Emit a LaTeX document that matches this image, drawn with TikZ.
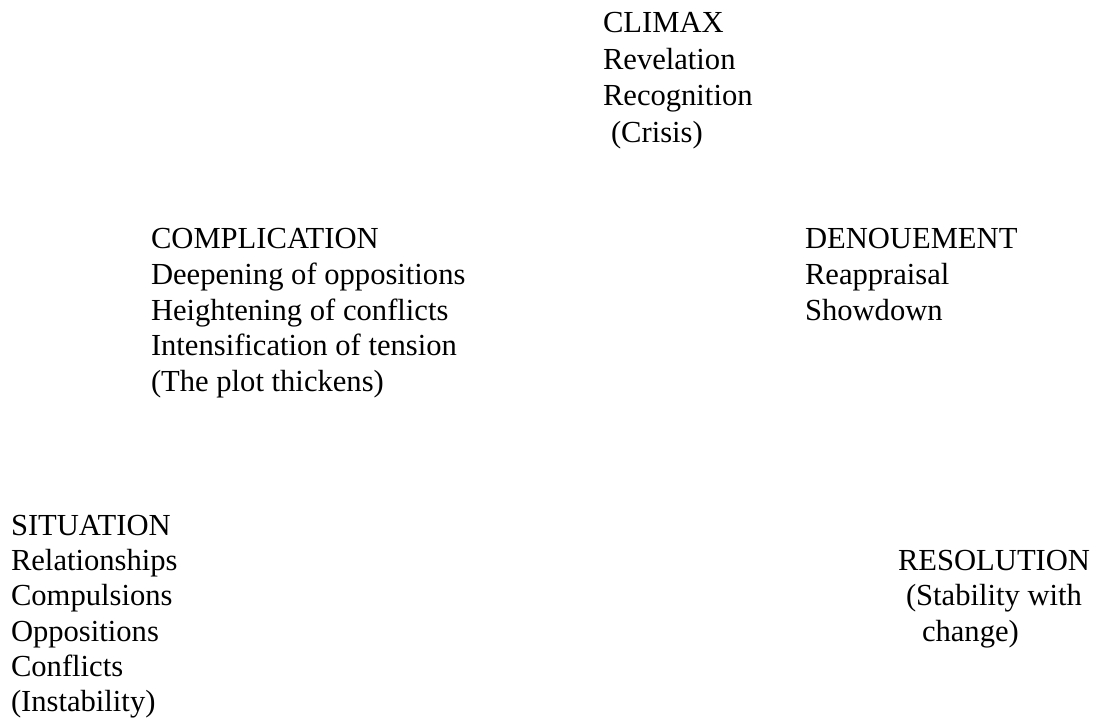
\documentclass[tikz,border=0pt]{standalone}
\usepackage{fontspec}
\setmainfont{Liberation Serif}
\begin{document}
\begin{tikzpicture}[x=1pt,y=-1pt,
  txt/.style={anchor=base west,inner sep=0pt,outer sep=0pt,
    font=\fontsize{30.6}{35.8}\selectfont}]
\path[use as bounding box] (0,0) rectangle (1100,719);
% CLIMAX
\node[txt] (cl1) at (603,33) {CLIMAX};
\node[txt] (cl2) at (603,69.5) {Revelation};
\node[txt] (cl3) at (603,106) {Recognition};
\node[txt] (cl4) at (611,142.5) {(Crisis)};
% COMPLICATION
\node[txt] (co1) at (151,249) {COMPLICATION};
\node[txt] (co2) at (151,284.6) {Deepening of oppositions};
\node[txt] (co3) at (151,320.2) {Heightening of conflicts};
\node[txt] (co4) at (151,355.8) {Intensification of tension};
\node[txt] (co5) at (151,391.4) {(The plot thickens)};
% DENOUEMENT
\node[txt] (de1) at (805,249) {DENOUEMENT};
\node[txt] (de2) at (805,284.6) {Reappraisal};
\node[txt] (de3) at (805,320.2) {Showdown};
% SITUATION
\node[txt] (si1) at (11,535.5) {SITUATION};
\node[txt] (si2) at (11,570.7) {Relationships};
\node[txt] (si3) at (11,605.9) {Compulsions};
\node[txt] (si4) at (11,641.1) {Oppositions};
\node[txt] (si5) at (11,676.3) {Conflicts};
\node[txt] (si6) at (11,711.5) {(Instability)};
% RESOLUTION
\node[txt] (re1) at (898,570.7) {RESOLUTION};
\node[txt] (re2) at (906,605.9) {(Stability with};
\node[txt] (re3) at (922,641.1) {change)};
\end{tikzpicture}
\end{document}
